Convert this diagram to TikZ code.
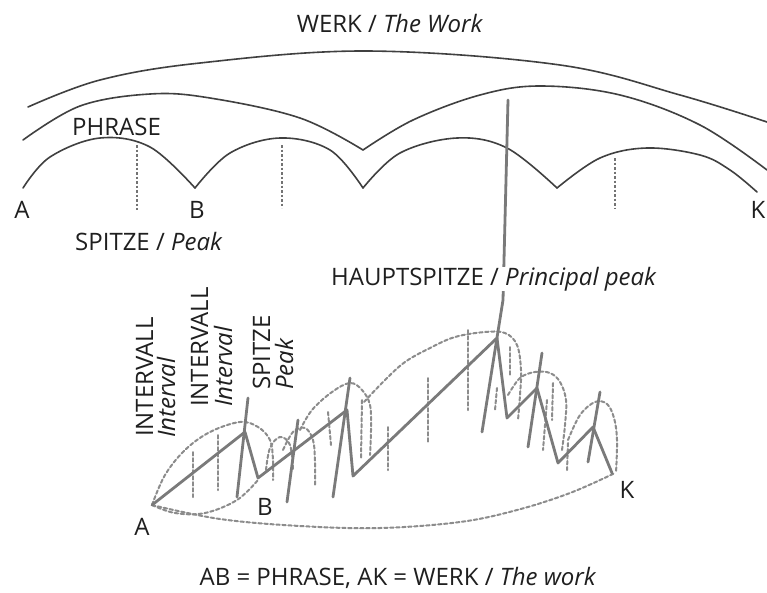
\documentclass[tikz,border=0pt]{standalone}
\usepackage{fontspec}
\setmainfont{Open Sans}
\begin{document}
\begin{tikzpicture}[x=1pt,y=-1pt]
\tikzset{
  upline/.style={draw=black!75, line width=1.6pt, line cap=round, line join=round},
  dotv/.style={draw=black!55, line width=1.6pt, dash pattern=on 2.5pt off 2pt},
  zig/.style={draw=black!52, line width=2.8pt, line cap=round, line join=round},
  dsh/.style={draw=black!45, line width=2pt, dash pattern=on 3.5pt off 2.5pt, line cap=round},
  lbl/.style={font=\fontsize{24}{27}\selectfont, text=black!88, inner sep=0pt},
}
\useasboundingbox (0,0) rectangle (767,592);
\fill[white] (0,0) rectangle (767,592);

% ---------- upper diagram ----------
\node[lbl, anchor=base] (werk) at (390,32) {WERK / \textit{The Work}};
% top arc (the work)
\draw[upline] plot[smooth, tension=0.6] coordinates {(28,107) (100,80) (200,63) (367,51) (560,65) (680,95) (767,122)};
% phrase arcs
\draw[upline] plot[smooth, tension=0.6] coordinates {(23,140) (80,106) (150,94) (210,98) (300,118) (363,150)};
\draw[upline] plot[smooth, tension=0.6] coordinates {(363,150) (413,120) (480,95) (540,86) (620,95) (700,125) (767,170)};
% peak arcs
\draw[upline] plot[smooth, tension=0.6] coordinates {(23,188) (50,157) (100,138) (150,147) (195,188)};
\draw[upline] plot[smooth, tension=0.6] coordinates {(195,188) (230,153) (280,138) (330,150) (363,188)};
\draw[upline] plot[smooth, tension=0.6] coordinates {(363,188) (400,153) (457,138) (507,148) (557,188)};
\draw[upline] plot[smooth, tension=0.6] coordinates {(557,188) (600,158) (647,148) (700,155) (730,170) (757,192)};
% dotted verticals
\draw[dotv] (137,145) -- (137,210);
\draw[dotv] (282,145) -- (282,208);
\draw[dotv] (615,158) -- (615,208);

\node[lbl, anchor=base west] (phrase) at (72,135) {PHRASE};
\node[lbl, anchor=base] (uA) at (22,218) {A};
\node[lbl, anchor=base] (uB) at (197,218) {B};
\node[lbl, anchor=base] (uK) at (758,218) {K};
\node[lbl, anchor=base west] (spitze) at (75,250) {SPITZE / \textit{Peak}};

% ---------- lower diagram ----------
\coordinate (A2) at (152,505);
\coordinate (P1) at (245,432);
\coordinate (V1) at (258,478);
\coordinate (P3) at (347,410);
\coordinate (V2) at (353,476);
\coordinate (PM) at (497,338);
\coordinate (V3) at (507,418);
\coordinate (P4) at (537,388);
\coordinate (V4) at (558,463);
\coordinate (P5) at (593,427);
\coordinate (E) at (612,473);
\coordinate (Htop) at (508,100);

% dashed arcs
\draw[dsh] plot[smooth, tension=0.6] coordinates {(A2) (220,519) (300,526) (380,528) (460,522) (517,510) (570,493) (615,473)};
\draw[dsh] plot[smooth, tension=0.6] coordinates {(A2) (165,475) (185,450) (210,432) (240,422) (258,427) (270,440) (273,460) (273,480)};
\draw[dsh] plot[smooth, tension=0.6] coordinates {(A2) (175,513) (205,513) (237,500) (258,480)};
\draw[dsh] plot[smooth, tension=0.6] coordinates {(266,470) (270,448) (280,437) (290,445) (293,470)};
\draw[dsh] plot[smooth, tension=0.6] coordinates {(283,450) (293,432) (305,428) (313,440) (315,462) (315,487)};
\draw[dsh] plot[smooth, tension=0.6] coordinates {(300,430) (312,410) (332,392) (350,383) (362,390) (370,405) (371,430) (370,455)};
\draw[dsh] plot[smooth, tension=0.6] coordinates {(364,402) (385,380) (405,362) (430,348) (455,337) (485,332) (505,333) (517,345) (521,370) (520,395) (518,420)};
\draw[dsh] plot[smooth, tension=0.6] coordinates {(508,395) (520,378) (535,372) (550,373) (560,382) (566,400) (565,425) (562,450)};
\draw[dsh] plot[smooth, tension=0.6] coordinates {(568,440) (580,415) (595,402) (607,404) (614,418) (617,440) (616,473)};
% dashed verticals
\draw[dsh] (193,452) -- (193,497);
\draw[dsh] (218,435) -- (218,490);
\draw[dsh] (328,412) -- (331,445);
\draw[dsh] (362,400) -- (361,458);
\draw[dsh] (388,427) -- (388,470);
\draw[dsh] (428,378) -- (428,443);
\draw[dsh] (468,330) -- (468,410);
\draw[dsh] (497,388) -- (495,410);
\draw[dsh] (510,347) -- (510,375);
\draw[dsh] (547,400) -- (543,450);
\draw[dsh] (553,383) -- (552,420);
\draw[dsh] (568,443) -- (567,470);

% zigzag and spikes
\draw[zig] (A2) -- (P1) -- (V1) -- (P3) -- (V2) -- (PM) -- (V3) -- (P4) -- (V4) -- (P5) -- (E);
\draw[zig] (248,398) -- (237,497);
\draw[zig] (298,420) -- (287,502);
\draw[zig] (350,378) -- (333,497);
\draw[zig] (Htop) -- (503,300) -- (482,432);
\draw[zig] (542,353) -- (528,447);
\draw[zig] (600,392) -- (588,462);

\node[lbl, anchor=base west, fill=white] (haupt) at (331,285) {HAUPTSPITZE / \textit{Principal peak}};

% rotated labels
\node[lbl, rotate=90, anchor=base west] (int1) at (153,437) {INTERVALL};
\node[lbl, rotate=90, anchor=base west] (int1e) at (175,438) {\textit{Interval}};
\node[lbl, rotate=90, anchor=base west] (int2) at (208,407) {INTERVALL};
\node[lbl, rotate=90, anchor=base west] (int2e) at (232,407) {\textit{Interval}};
\node[lbl, rotate=90, anchor=base west] (sp) at (270,390) {SPITZE};
\node[lbl, rotate=90, anchor=base west] (spe) at (293,390) {\textit{Peak}};

\node[lbl, anchor=base] (lA) at (142,535) {A};
\node[lbl, anchor=base] (lB) at (265,515) {B};
\node[lbl, anchor=base] (lK) at (627,498) {K};

\node[lbl, anchor=base] (caption) at (398,585) {AB = PHRASE, AK = WERK / \textit{The work}};
\end{tikzpicture}
\end{document}
